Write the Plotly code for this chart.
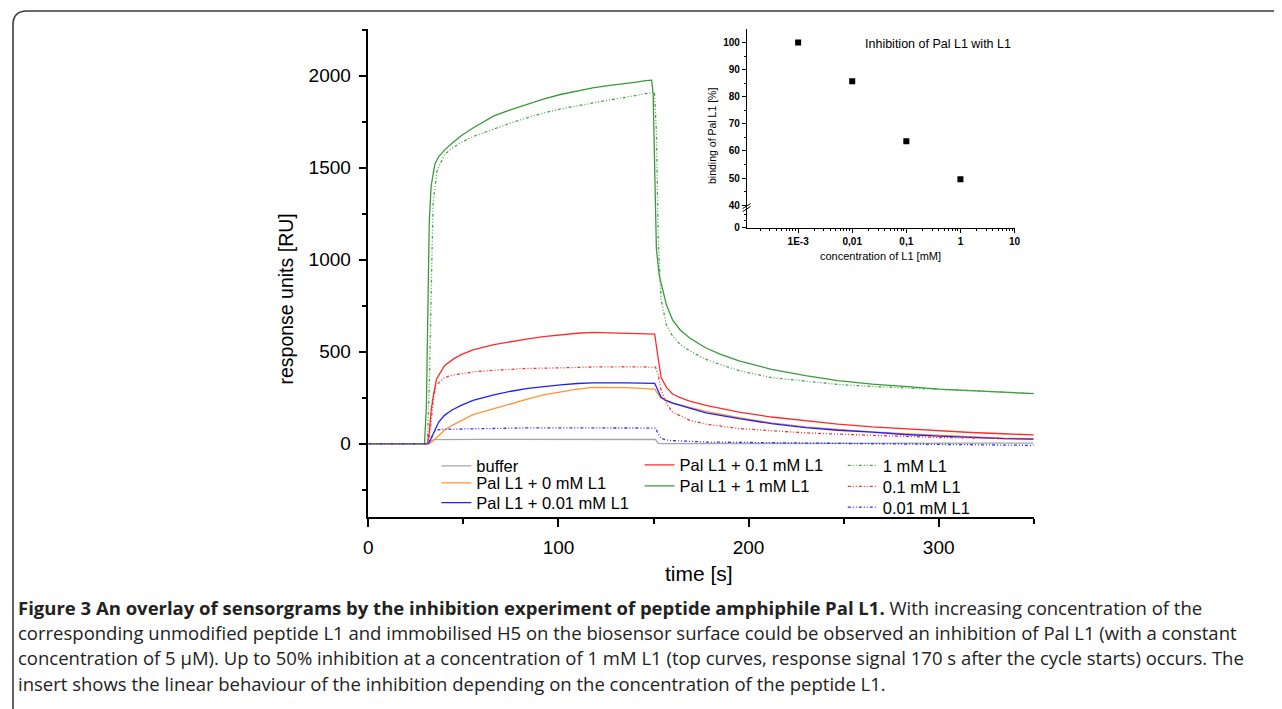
import plotly.graph_objects as go

# page body has an 8px margin, so the figure is drawn 8px in from the top-left corner
OX, OY = 8, 8
W, H = 1274, 701

# ---------------- data ----------------
t_buffer = [0, 31.5, 33, 35, 60, 100, 150, 151, 152.4, 156, 200, 250, 300, 350]
y_buffer = [0, 0, 18, 22, 24, 25, 25, 23, 2, 0, 1, 2, 3, 3]

t_pal0 = [0, 32, 34, 37, 40, 44, 48.8, 55, 66, 75, 84, 92, 101, 110, 118, 136, 150, 150.6, 152.4, 154, 156.8, 160, 169, 177.6, 195, 212, 230, 247, 265, 282, 300, 317, 334, 350]
y_pal0 = [0, 0, 15, 46, 73, 100, 127, 158, 190, 218, 243, 265, 283, 297, 306, 305, 297, 296, 270, 248, 234, 222, 198, 175, 141, 113, 91, 77, 64, 55, 45, 38, 30, 27]

t_pal001 = [0, 31.5, 33, 35, 37, 40, 44, 48.8, 55, 66, 75, 84, 92, 101, 110, 118, 136, 150, 150.6, 152.4, 154, 156.8, 160, 169, 177.6, 195, 212, 230, 247, 265, 282, 300, 317, 334, 350]
y_pal001 = [0, 0, 30, 75, 118, 154, 183, 208, 235, 265, 285, 300, 311, 320, 327, 331, 331, 329, 328, 288, 252, 234, 220, 193, 168, 136, 109, 87, 73, 63, 50, 41, 34, 28, 25]

t_pal01 = [0, 31, 32, 33, 34, 35.8, 40, 45, 48.8, 55, 66, 75, 84, 92, 101, 110, 118, 136, 150, 150.6, 152.4, 154, 156.8, 160, 164, 169, 177.6, 185, 195, 212, 230, 247, 265, 282, 300, 317, 334, 350]
y_pal01 = [0, 0, 60, 180, 252, 350, 424, 462, 484, 510, 538, 556, 570, 582, 592, 600, 605, 601, 597, 595, 467, 359, 306, 270, 250, 231, 208, 192, 172, 145, 123, 106, 91, 80, 70, 61, 54, 48]

t_pal1 = [0, 29.5, 30.5, 31.2, 32, 33, 35, 37, 40, 44, 49, 55, 66, 75, 84, 92, 101, 110, 118, 127, 136, 140, 146, 149, 149.8, 150.5, 151.5, 153, 156.8, 160, 164, 169, 177.6, 185, 195, 212, 230, 247, 265, 282, 300, 317, 334, 350]
y_pal1 = [0, 0, 200, 700, 1200, 1400, 1520, 1560, 1595, 1632, 1674, 1715, 1781, 1815, 1845, 1872, 1897, 1918, 1933, 1946, 1956, 1963, 1972, 1975, 1900, 1500, 1060, 914, 753, 672, 618, 574, 520, 487, 450, 404, 370, 343, 324, 311, 297, 288, 279, 272]

t_l1_1 = [0, 31, 32, 33, 34, 36, 40, 44, 49, 55, 66, 75, 84, 92, 101, 110, 118, 127, 136, 148, 150.5, 151.5, 152.5, 154, 156.8, 160, 164, 169, 177.6, 185, 195, 212, 230, 247, 265, 282, 300, 317, 334, 350]
y_l1_1 = [0, 0, 300, 900, 1300, 1480, 1570, 1605, 1638, 1668, 1711, 1743, 1772, 1796, 1818, 1836, 1852, 1868, 1883, 1906, 1910, 1700, 1100, 780, 645, 585, 540, 504, 458, 430, 397, 359, 338, 322, 311, 302, 295, 288, 279, 273]

t_l1_01 = [0, 31.5, 33, 34, 35.5, 40, 44, 48.8, 55, 66, 75, 84, 101, 118, 136, 150, 151, 152.4, 154, 156.8, 160, 169, 177.6, 195, 212, 230, 247, 265, 282, 300, 317, 334, 350]
y_l1_01 = [0, 0, 120, 230, 316, 359, 372, 381, 390, 399, 405, 409, 412, 417, 418, 417, 416, 377, 290, 216, 172, 127, 106, 82, 70, 59, 52, 45, 39, 34, 31, 27, 25]

t_l1_001 = [0, 31.5, 33, 35, 38, 48.8, 66, 84, 101, 118, 136, 150, 151, 152.4, 154, 156.8, 160, 177.6, 212, 247, 282, 317, 350]
y_l1_001 = [0, 0, 30, 70, 78, 80, 84, 86, 86, 87, 87, 86, 85, 55, 29, 20, 17, 9, 6, 2, -2, -5, -9]

# inset
conc_mM = [0.001, 0.01, 0.1, 1]
binding_pct = [100, 85.7, 63.6, 49.6]

x_ticks = [0, 100, 200, 300]
y_ticks = [0, 500, 1000, 1500, 2000]
inset_x_tickvals = [0.001, 0.01, 0.1, 1, 10]
inset_x_ticktext = ["1E-3", "0,01", "0,1", "1", "10"]
inset_y_tickvals = [31.7, 40, 50, 60, 70, 80, 90, 100]
inset_y_ticktext = ["0", "40", "50", "60", "70", "80", "90", "100"]

legend_names = ["buffer", "Pal L1 + 0 mM L1", "Pal L1 + 0.01 mM L1",
                "Pal L1 + 0.1 mM L1", "Pal L1 + 1 mM L1",
                "1 mM L1", "0.1 mM L1", "0.01 mM L1"]

# ---------------- helpers ----------------
def px(x):
    return (x - OX) / W

def py(y):
    return 1 - (y - OY) / H

FONT = "Liberation Sans, Arial, sans-serif"
DASH = "3px,2px,1px,2px,1px,2px"

series = [
    (t_buffer, y_buffer, "#a6a6a6", "solid", 0),
    (t_pal0, y_pal0, "#ff9433", "solid", 1),
    (t_pal001, y_pal001, "#2020ff", "solid", 2),
    (t_pal01, y_pal01, "#ff2a2a", "solid", 3),
    (t_pal1, y_pal1, "#3a9a3a", "solid", 4),
    (t_l1_1, y_l1_1, "#4aa84a", DASH, 5),
    (t_l1_01, y_l1_01, "#ff3030", DASH, 6),
    (t_l1_001, y_l1_001, "#3030ff", DASH, 7),
]

legend_pos = [(435, 469.5), (435, 486.5), (435, 506.5),
              (640, 468.5), (640, 489.5),
              (845, 469), (845, 490), (845, 511)]

fig = go.Figure()
layout_legends = {}
for tx, ty, col, dash, li in series:
    lname = "legend" if li == 0 else f"legend{li + 1}"
    fig.add_trace(go.Scatter(
        x=tx, y=ty, mode="lines", name=legend_names[li],
        line=dict(color=col, width=1.3, dash=dash),
        legend=lname, xaxis="x", yaxis="y", hoverinfo="skip"))
    lx, ly = legend_pos[li]
    layout_legends[lname] = dict(
        x=px(lx), y=py(ly), xanchor="left", yanchor="middle",
        bgcolor="rgba(0,0,0,0)", borderwidth=0,
        font=dict(family=FONT, size=16.5, color="#000"),
        itemwidth=30, tracegroupgap=0)

fig.add_trace(go.Scatter(
    x=conc_mM, y=binding_pct, mode="markers",
    marker=dict(symbol="square", size=6, color="#000"),
    xaxis="x2", yaxis="y2", showlegend=False, hoverinfo="skip"))

axis_common = dict(showgrid=False, zeroline=False, showline=True,
                   linecolor="#000", ticks="outside", tickcolor="#000")

main_x = [366.5, 1037.6]
main_y = [29.3, 521]
ins_x = [748.3, 1018.3]
ins_y = [29.3, 229.3]

fig.update_layout(
    width=W, height=H,
    margin=dict(l=0, r=0, t=0, b=0),
    paper_bgcolor="#fff", plot_bgcolor="rgba(0,0,0,0)",
    font=dict(family=FONT, color="#000"),
    xaxis=dict(**axis_common, domain=[px(main_x[0]), px(main_x[1])],
               range=[0, 350], tickvals=x_ticks, ticklen=8, linewidth=1.5,
               tickwidth=1.5, tickfont=dict(size=19), ticklabelstandoff=4,
               minor=dict(ticks="outside", dtick=50, tick0=0, ticklen=5,
                          tickwidth=1.5, tickcolor="#000"),
               anchor="y"),
    yaxis=dict(**axis_common, domain=[py(main_y[1]), py(main_y[0])],
               range=[-400, 2252], tickvals=y_ticks, ticklen=8, linewidth=1.5,
               tickwidth=1.5, tickfont=dict(size=19), ticklabelstandoff=4,
               minor=dict(ticks="outside", dtick=250, tick0=0, ticklen=5,
                          tickwidth=1.5, tickcolor="#000"),
               anchor="x"),
    xaxis2=dict(**axis_common, type="log", domain=[px(ins_x[0]), px(ins_x[1])],
                range=[-3.947, 1.001], tickmode="array",
                tickvals=inset_x_tickvals, ticktext=inset_x_ticktext,
                ticklen=4, linewidth=1, tickwidth=1,
                tickfont=dict(size=10, weight="bold"),
                minor=dict(ticks="outside", ticklen=2, tickwidth=0.8, tickcolor="#000",
                           tickvals=[k * 10 ** e for e in range(-4, 1) for k in range(2, 10)]),
                anchor="y2"),
    yaxis2=dict(**axis_common, domain=[py(ins_y[1]), py(ins_y[0])],
                range=[31.7, 104.9], tickmode="array",
                tickvals=inset_y_tickvals, ticktext=inset_y_ticktext,
                ticklen=4, linewidth=1, tickwidth=1,
                tickfont=dict(size=10, weight="bold"),
                minor=dict(ticks="outside", ticklen=2, tickwidth=0.8, tickcolor="#000",
                           tickvals=[34.2, 36.6, 45, 55, 65, 75, 85, 95]),
                anchor="x2"),
    **layout_legends,
)

ann = []
ann.append(dict(text="response units [RU]", x=px(283), y=py(301), textangle=-90,
                font=dict(size=19.5)))
ann.append(dict(text="time [s]", x=px(700), y=py(578), font=dict(size=21)))
ann.append(dict(text="Inhibition of Pal L1 with L1", x=px(941), y=py(44),
                font=dict(size=12.5)))
ann.append(dict(text="binding of Pal L1 [%]", x=px(713), y=py(137), textangle=-90,
                font=dict(size=10.5)))
ann.append(dict(text="concentration of L1 [mM]", x=px(883), y=py(258),
                font=dict(size=11)))

CAP = "Open Sans, Liberation Sans, sans-serif"
cap_lines = [
    "<b>Figure 3 An overlay of sensorgrams by the inhibition experiment of peptide amphiphile Pal L1.</b> With increasing concentration of the",
    "corresponding unmodified peptide L1 and immobilised H5 on the biosensor surface could be observed an inhibition of Pal L1 (with a constant",
    "concentration of 5 µM). Up to 50% inhibition at a concentration of 1 mM L1 (top curves, response signal 170 s after the cycle starts) occurs. The",
    "insert shows the linear behaviour of the inhibition depending on the concentration of the peptide L1.",
]
cap_y = [612, 637, 662, 688]
for s, yy in zip(cap_lines, cap_y):
    ann.append(dict(text=s, x=px(11), y=py(yy), xanchor="left",
                    font=dict(family=CAP, size=18.5, color="#222")))

for a in ann:
    a.setdefault("xref", "paper")
    a.setdefault("yref", "paper")
    a.setdefault("showarrow", False)
    a.setdefault("xanchor", "center")
    a.setdefault("yanchor", "middle")
fig.update_layout(annotations=ann)

shapes = [
    dict(type="path", xref="paper", yref="paper",
         path=f"M {px(1290)},{py(11)} L {px(22)},{py(11)} Q {px(8)},{py(11)} {px(8)},{py(25)} L {px(8)},{py(715)}",
         line=dict(color="#3a3a3a", width=1.6)),
    dict(type="line", xref="paper", yref="paper",
         x0=px(744), y0=py(210), x1=px(752), y1=py(205), line=dict(color="#000", width=1)),
    dict(type="line", xref="paper", yref="paper",
         x0=px(744), y0=py(213), x1=px(752), y1=py(208), line=dict(color="#000", width=1)),
]
fig.update_layout(shapes=shapes)

fig.write_html("out.html")
